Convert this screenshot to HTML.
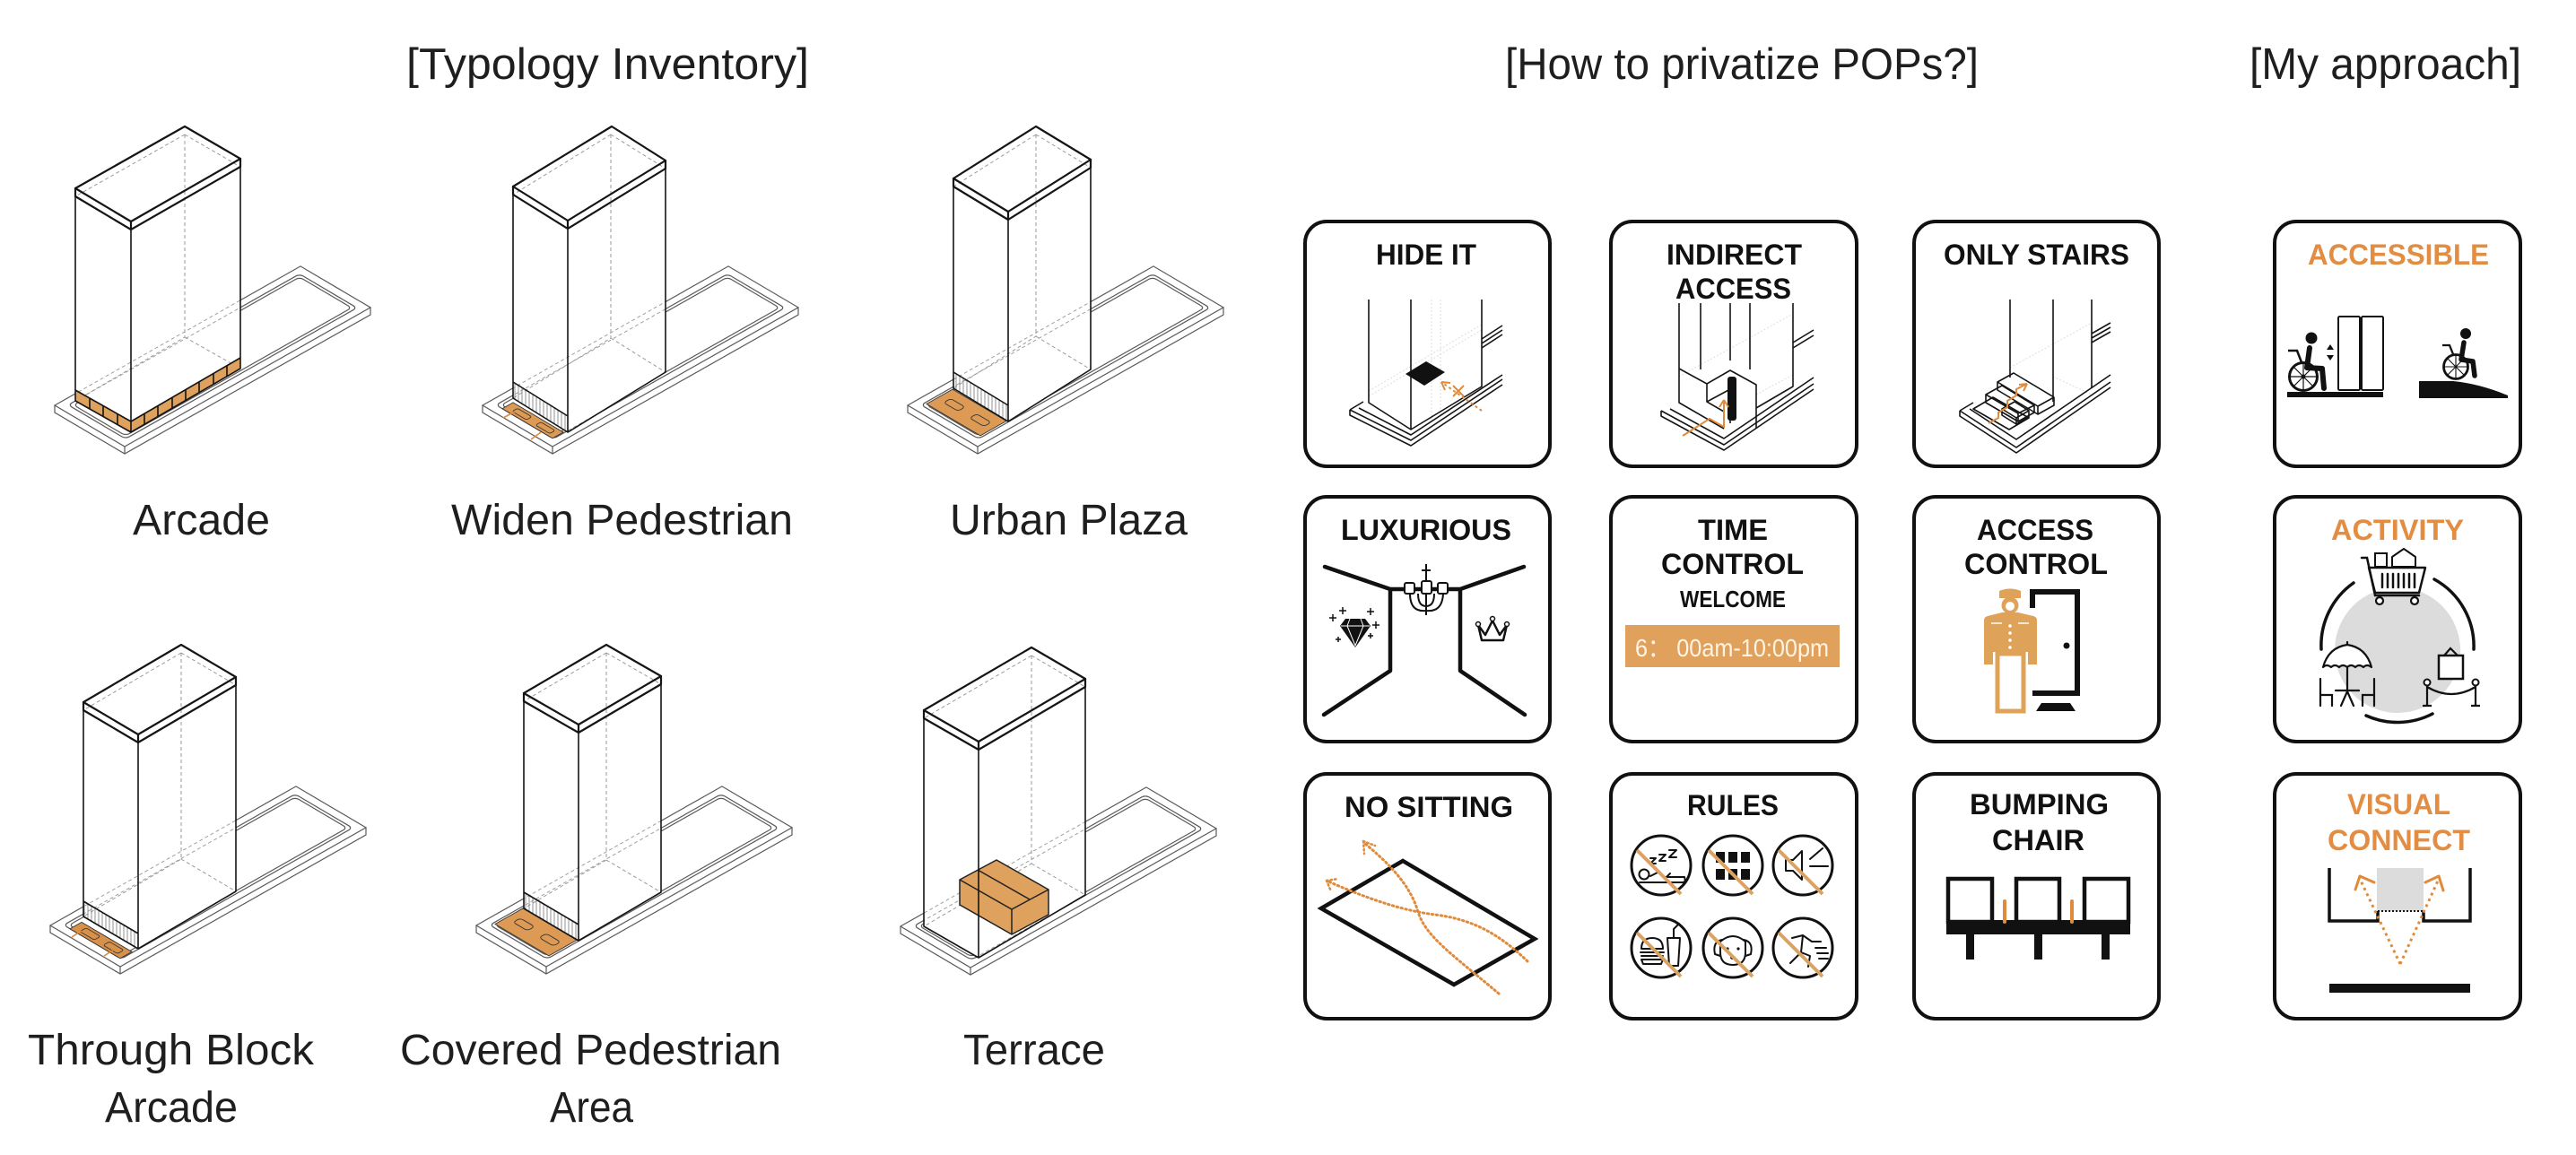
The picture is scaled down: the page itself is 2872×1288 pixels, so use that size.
<!DOCTYPE html>
<html>
<head>
<meta charset="utf-8">
<style>
html,body{margin:0;padding:0;background:#fff;}
body{width:2872px;height:1288px;overflow:hidden;}
svg{display:block;}
.pl{fill:none;stroke:#5a5a5a;stroke-width:1.2}
.pd{fill:none;stroke:#a0a0a0;stroke-width:1;stroke-dasharray:4 3}
.k1{fill:none;stroke:#151515;stroke-width:2.2;stroke-linejoin:round;stroke-linecap:round}
.k2{fill:none;stroke:#151515;stroke-width:1.6;stroke-linejoin:round}
.dh{fill:none;stroke:#9a9a9a;stroke-width:1;stroke-dasharray:4 3}
.lbl{font-family:"Liberation Sans",sans-serif;font-size:48px;fill:#1e1e1e}
.ttl{font-family:"Liberation Sans",sans-serif;font-size:49px;fill:#1e1e1e}
.ct{font-family:"Liberation Sans",sans-serif;font-size:32px;font-weight:bold;fill:#111}
.co{font-family:"Liberation Sans",sans-serif;font-size:32px;font-weight:bold;fill:#E38D43}
.card{fill:#fff;stroke:#111;stroke-width:4}
.ic{fill:none;stroke:#111;stroke-width:2;stroke-linecap:round;stroke-linejoin:round}
.sl{stroke:#DFA25E;stroke-width:4;stroke-linecap:butt}
</style>
</head>
<body>
<svg width="2872" height="1288" viewBox="0 0 2872 1288" xmlns="http://www.w3.org/2000/svg">
<defs>
<pattern id="hatch" width="4" height="10" patternUnits="userSpaceOnUse"><line x1="2" y1="0" x2="2" y2="10" stroke="#777" stroke-width="0.8"/></pattern>
<clipPath id="c1"><polygon points="206,141 268,177 268,411 146,482 84,447 84,210"/></clipPath>
<clipPath id="c2"><polygon points="682,141 742,179 742,415 633,482 572,444 572,208"/></clipPath>
<clipPath id="c3"><polygon points="1155,141 1216,178 1216,412 1124,470 1063,433 1063,199"/></clipPath>
<clipPath id="c4"><polygon points="202,719 263,755 263,994 154,1058 93,1022 93,783"/></clipPath>
<clipPath id="c5"><polygon points="676,719 737,754 737,995 645,1049 584,1013 584,773"/></clipPath>
<clipPath id="c6"><polygon points="1150,722 1210,757 1210,998 1091,1068 1030,1033 1030,792"/></clipPath>
</defs>
<rect width="2872" height="1288" fill="#fff"/>

<!-- TITLES -->
<text class="ttl" x="453" y="88" textLength="449" lengthAdjust="spacingAndGlyphs">[Typology Inventory]</text>
<text class="ttl" x="1678" y="88" textLength="528" lengthAdjust="spacingAndGlyphs">[How to privatize POPs?]</text>
<text class="ttl" x="2508" y="88" textLength="303" lengthAdjust="spacingAndGlyphs">[My approach]</text>

<!-- ============ BUILDING 1: ARCADE ============ -->
<path class="pl" d="M61,452 L61,460 L139,506 L413,351 L413,343 M139,498 L139,506"/>
<g transform="matrix(1,-0.566,-1,-0.59,139,498)">
<rect width="274" height="78" class="pl" vector-effect="non-scaling-stroke"/>
<rect x="8" y="7" width="258" height="64" rx="4" class="pl" vector-effect="non-scaling-stroke"/>
<rect x="11" y="10" width="252" height="58" rx="4" class="pl" vector-effect="non-scaling-stroke"/>
</g>
<polygon fill="#fff" points="206,141 268,177 268,411 146,482 84,447 84,210"/>
<g clip-path="url(#c1)"><g transform="matrix(1,-0.566,-1,-0.59,139,498)">
<rect width="274" height="78" class="pd" vector-effect="non-scaling-stroke"/>
<rect x="8" y="7" width="258" height="64" rx="4" class="pd" vector-effect="non-scaling-stroke"/>
</g></g>
<path class="dh" d="M206,150 L206,376 L84,447 M206,376 L268,411 M206,150 L84,219 M206,150 L268,186"/>
<polygon fill="#DFA25E" points="84,435 146,470 268,399 268,411 146,482 84,447"/>
<path class="k2" stroke-width="1.3" d="M84,435 L146,470 L268,399 M100,444 L100,456 M115,453 L115,465 M131,461 L131,473 M161,461 L161,473 M176,453 L176,465 M192,444 L192,456 M207,435 L207,447 M222,426 L222,438 M238,417 L238,429 M253,408 L253,420"/>
<path class="k1" d="M206,141 L84,210 L146,247 L268,177 Z"/>
<path class="k1" d="M84,210 L84,219 L146,256 L268,186 L268,177 M146,247 L146,256"/>
<path class="k2" d="M84,219 L84,447 L146,482 L268,411 L268,186 M146,256 L146,482"/>
<text class="lbl" x="148" y="596" textLength="153" lengthAdjust="spacingAndGlyphs">Arcade</text>

<!-- ============ BUILDING 2: WIDEN ============ -->
<path class="pl" d="M538,452 L538,460 L616,506 L890,351 L890,343 M616,498 L616,506"/>
<g transform="matrix(1,-0.566,-1,-0.59,616,498)">
<rect width="274" height="78" class="pl" vector-effect="non-scaling-stroke"/>
<rect x="8" y="7" width="258" height="64" rx="4" class="pl" vector-effect="non-scaling-stroke"/>
<rect x="11" y="10" width="252" height="58" rx="4" class="pl" vector-effect="non-scaling-stroke"/>
</g>
<polygon fill="#fff" points="682,141 742,179 742,415 633,482 572,444 572,208"/>
<g clip-path="url(#c2)"><g transform="matrix(1,-0.566,-1,-0.59,616,498)">
<rect width="274" height="78" class="pd" vector-effect="non-scaling-stroke"/>
<rect x="8" y="7" width="258" height="64" rx="4" class="pd" vector-effect="non-scaling-stroke"/>
</g></g>
<path class="dh" d="M681,150 L681,377 L572,444 M681,377 L742,415 M681,150 L572,217 M681,150 L742,188"/>
<polygon fill="url(#hatch)" points="572,426 633,464 633,482 572,444"/>
<g transform="matrix(1,-0.566,-1,-0.59,616,498)">
<rect x="8" y="8" width="12" height="56" fill="#DC9A55" stroke="#333" stroke-width="0.9" vector-effect="non-scaling-stroke"/>
<rect x="11" y="14" width="6" height="16" rx="2" fill="none" stroke="#333" stroke-width="0.8" vector-effect="non-scaling-stroke"/>
<rect x="11" y="40" width="6" height="16" rx="2" fill="none" stroke="#333" stroke-width="0.8" vector-effect="non-scaling-stroke"/>
</g>
<path stroke="#E08A3C" stroke-width="1.6" d="M561,466 L574,459 M592,490 L603,482"/>
<path class="k1" d="M682,141 L572,208 L633,246 L742,179 Z"/>
<path class="k1" d="M572,208 L572,217 L633,255 L742,188 L742,179 M633,246 L633,255"/>
<path class="k2" d="M572,217 L572,444 L633,482 L742,415 L742,188 M633,255 L633,482 M572,426 L633,464"/>
<text class="lbl" x="503" y="596" textLength="381" lengthAdjust="spacingAndGlyphs">Widen Pedestrian</text>

<!-- ============ BUILDING 3: URBAN PLAZA ============ -->
<path class="pl" d="M1012,452 L1012,460 L1090,506 L1364,351 L1364,343 M1090,498 L1090,506"/>
<g transform="matrix(1,-0.566,-1,-0.59,1090,498)">
<rect width="274" height="78" class="pl" vector-effect="non-scaling-stroke"/>
<rect x="8" y="7" width="258" height="64" rx="4" class="pl" vector-effect="non-scaling-stroke"/>
<rect x="11" y="10" width="252" height="58" rx="4" class="pl" vector-effect="non-scaling-stroke"/>
</g>
<polygon fill="#fff" points="1155,141 1216,178 1216,412 1124,470 1063,433 1063,199"/>
<g clip-path="url(#c3)"><g transform="matrix(1,-0.566,-1,-0.59,1090,498)">
<rect width="274" height="78" class="pd" vector-effect="non-scaling-stroke"/>
<rect x="8" y="7" width="258" height="64" rx="4" class="pd" vector-effect="non-scaling-stroke"/>
</g></g>
<path class="dh" d="M1155,150 L1155,375 L1063,433 M1155,375 L1216,412 M1155,150 L1063,208 M1155,150 L1216,187"/>
<polygon fill="url(#hatch)" points="1063,415 1124,452 1124,470 1063,433"/>
<g transform="matrix(1,-0.566,-1,-0.59,1090,498)">
<rect x="12" y="9" width="29" height="60" fill="#DC9A55" stroke="#333" stroke-width="0.9" vector-effect="non-scaling-stroke"/>
<rect x="23" y="16" width="8" height="16" rx="3" fill="none" stroke="#333" stroke-width="0.9" vector-effect="non-scaling-stroke"/>
<rect x="23" y="45" width="8" height="16" rx="3" fill="none" stroke="#333" stroke-width="0.9" vector-effect="non-scaling-stroke"/>
</g>
<path class="k1" d="M1155,141 L1063,199 L1124,236 L1216,178 Z"/>
<path class="k1" d="M1063,199 L1063,208 L1124,245 L1216,187 L1216,178 M1124,236 L1124,245"/>
<path class="k2" d="M1063,208 L1063,433 L1124,470 L1216,412 L1216,187 M1124,245 L1124,470 M1063,415 L1124,452"/>
<text class="lbl" x="1059" y="596" textLength="265" lengthAdjust="spacingAndGlyphs">Urban Plaza</text>

<!-- ============ BUILDING 4: THROUGH BLOCK ============ -->
<path class="pl" d="M56,1032 L56,1040 L134,1086 L408,931 L408,923 M134,1078 L134,1086"/>
<g transform="matrix(1,-0.566,-1,-0.59,134,1078)">
<rect width="274" height="78" class="pl" vector-effect="non-scaling-stroke"/>
<rect x="8" y="7" width="258" height="64" rx="4" class="pl" vector-effect="non-scaling-stroke"/>
<rect x="11" y="10" width="252" height="58" rx="4" class="pl" vector-effect="non-scaling-stroke"/>
</g>
<polygon fill="#fff" points="202,719 263,755 263,994 154,1058 93,1022 93,783"/>
<g clip-path="url(#c4)"><g transform="matrix(1,-0.566,-1,-0.59,134,1078)">
<rect width="274" height="78" class="pd" vector-effect="non-scaling-stroke"/>
<rect x="8" y="7" width="258" height="64" rx="4" class="pd" vector-effect="non-scaling-stroke"/>
</g></g>
<path class="dh" d="M202,728 L202,958 L93,1022 M202,958 L263,994 M202,728 L93,792 M202,728 L263,764"/>
<polygon fill="url(#hatch)" points="93,1005 154,1041 154,1058 93,1022"/>
<g transform="matrix(1,-0.566,-1,-0.59,134,1078)">
<rect x="8" y="8" width="13" height="56" fill="#D8914A" stroke="#333" stroke-width="0.9" vector-effect="non-scaling-stroke"/>
<rect x="11" y="14" width="7" height="16" rx="2" fill="none" stroke="#333" stroke-width="0.8" vector-effect="non-scaling-stroke"/>
<rect x="11" y="40" width="7" height="16" rx="2" fill="none" stroke="#333" stroke-width="0.8" vector-effect="non-scaling-stroke"/>
</g>
<path stroke="#E08A3C" stroke-width="1.6" d="M80,1045 L91,1038 M116,1066 L127,1059"/>
<path class="k1" d="M202,719 L93,783 L154,819 L263,755 Z"/>
<path class="k1" d="M93,783 L93,792 L154,828 L263,764 L263,755 M154,819 L154,828"/>
<path class="k2" d="M93,792 L93,1022 L154,1058 L263,994 L263,764 M154,828 L154,1058 M93,1005 L154,1041"/>
<text class="lbl" x="31" y="1187" textLength="319" lengthAdjust="spacingAndGlyphs">Through Block</text>
<text class="lbl" x="117" y="1251" textLength="148" lengthAdjust="spacingAndGlyphs">Arcade</text>

<!-- ============ BUILDING 5: COVERED ============ -->
<path class="pl" d="M531,1032 L531,1040 L609,1086 L883,931 L883,923 M609,1078 L609,1086"/>
<g transform="matrix(1,-0.566,-1,-0.59,609,1078)">
<rect width="274" height="78" class="pl" vector-effect="non-scaling-stroke"/>
<rect x="8" y="7" width="258" height="64" rx="4" class="pl" vector-effect="non-scaling-stroke"/>
<rect x="11" y="10" width="252" height="58" rx="4" class="pl" vector-effect="non-scaling-stroke"/>
</g>
<polygon fill="#fff" points="676,719 737,754 737,995 645,1049 584,1013 584,773"/>
<g clip-path="url(#c5)"><g transform="matrix(1,-0.566,-1,-0.59,609,1078)">
<rect width="274" height="78" class="pd" vector-effect="non-scaling-stroke"/>
<rect x="8" y="7" width="258" height="64" rx="4" class="pd" vector-effect="non-scaling-stroke"/>
</g></g>
<path class="dh" d="M676,728 L676,959 L584,1013 M676,959 L737,995 M676,728 L584,782 M676,728 L737,763"/>
<polygon fill="url(#hatch)" points="584,995 645,1031 645,1049 584,1013"/>
<g transform="matrix(1,-0.566,-1,-0.59,609,1078)">
<rect x="12" y="9" width="31" height="60" fill="#DC9A55" stroke="#333" stroke-width="0.9" vector-effect="non-scaling-stroke"/>
<rect x="24" y="16" width="8" height="16" rx="3" fill="none" stroke="#333" stroke-width="0.9" vector-effect="non-scaling-stroke"/>
<rect x="24" y="45" width="8" height="16" rx="3" fill="none" stroke="#333" stroke-width="0.9" vector-effect="non-scaling-stroke"/>
</g>
<path class="k1" d="M676,719 L584,773 L645,808 L737,754 Z"/>
<path class="k1" d="M584,773 L584,782 L645,817 L737,763 L737,754 M645,808 L645,817"/>
<path class="k2" d="M584,782 L584,1013 L645,1049 L737,995 L737,763 M645,817 L645,1049 M584,995 L645,1031"/>
<text class="lbl" x="446" y="1187" textLength="425" lengthAdjust="spacingAndGlyphs">Covered Pedestrian</text>
<text class="lbl" x="613" y="1251" textLength="93" lengthAdjust="spacingAndGlyphs">Area</text>

<!-- ============ BUILDING 6: TERRACE ============ -->
<path class="pl" d="M1004,1033 L1004,1041 L1082,1087 L1356,932 L1356,924 M1082,1079 L1082,1087"/>
<g transform="matrix(1,-0.566,-1,-0.59,1082,1079)">
<rect width="274" height="78" class="pl" vector-effect="non-scaling-stroke"/>
<rect x="8" y="7" width="258" height="64" rx="4" class="pl" vector-effect="non-scaling-stroke"/>
<rect x="11" y="10" width="252" height="58" rx="4" class="pl" vector-effect="non-scaling-stroke"/>
</g>
<polygon fill="#fff" points="1150,722 1210,757 1210,998 1091,1068 1030,1033 1030,792"/>
<g clip-path="url(#c6)"><g transform="matrix(1,-0.566,-1,-0.59,1082,1079)">
<rect width="274" height="78" class="pd" vector-effect="non-scaling-stroke"/>
<rect x="8" y="7" width="258" height="64" rx="4" class="pd" vector-effect="non-scaling-stroke"/>
</g></g>
<path class="dh" d="M1150,731 L1150,963 L1030,1033 M1150,963 L1210,998 M1150,731 L1030,801 M1150,731 L1210,766"/>
<polygon fill="#DFA25E" stroke="#222" stroke-width="1.5" stroke-linejoin="round" points="1111,959 1169,992 1169,1020 1128,1042 1070,1009 1070,981"/>
<path fill="none" stroke="#222" stroke-width="1.5" d="M1070,981 L1128,1014 L1169,992 M1128,1014 L1128,1042 M1090,970 L1148,1003"/>
<path class="k1" d="M1150,722 L1030,792 L1091,827 L1210,757 Z"/>
<path class="k1" d="M1030,792 L1030,801 L1091,836 L1210,766 L1210,757 M1091,827 L1091,836"/>
<path class="k2" d="M1030,801 L1030,1033 L1091,1068 L1210,998 L1210,766 M1091,836 L1091,1068"/>
<text class="lbl" x="1074" y="1187" textLength="158" lengthAdjust="spacingAndGlyphs">Terrace</text>

<!-- ============ CARDS ============ -->
<rect class="card" x="1455" y="247" width="273" height="273" rx="24"/>
<rect class="card" x="1796" y="247" width="274" height="273" rx="24"/>
<rect class="card" x="2134" y="247" width="273" height="273" rx="24"/>
<rect class="card" x="2536" y="247" width="274" height="273" rx="24"/>
<rect class="card" x="1455" y="554" width="273" height="273" rx="24"/>
<rect class="card" x="1796" y="554" width="274" height="273" rx="24"/>
<rect class="card" x="2134" y="554" width="273" height="273" rx="24"/>
<rect class="card" x="2536" y="554" width="274" height="273" rx="24"/>
<rect class="card" x="1455" y="863" width="273" height="273" rx="24"/>
<rect class="card" x="1796" y="863" width="274" height="273" rx="24"/>
<rect class="card" x="2134" y="863" width="273" height="273" rx="24"/>
<rect class="card" x="2536" y="863" width="274" height="273" rx="24"/>

<!-- HIDE IT -->
<text class="ct" x="1534" y="295" textLength="112" lengthAdjust="spacingAndGlyphs">HIDE IT</text>
<path fill="none" stroke="#ddd" stroke-width="1" stroke-dasharray="2 2" d="M1526,436 L1652,362 M1526,442 L1652,368 M1596,334 L1596,470 M1606,334 L1606,465"/>
<path class="k2" stroke-width="1.1" stroke="#444" d="M1505,457 L1573,491 L1675,423 M1505,457 L1505,463 L1573,497 L1675,429 M1515,455 L1573,485 L1675,418 M1505,457 L1520,448 M1652,378 L1675,363 M1652,383 L1675,368 M1652,388 L1675,373"/>
<path class="k2" stroke-width="1.8" d="M1526,334 L1526,449 L1573,479 L1652,431 L1652,334 M1573,334 L1573,479"/>
<polygon fill="#111" points="1567,417 1590,403 1611,415 1588,430"/>
<path fill="none" stroke="#E08A3C" stroke-width="2" stroke-dasharray="3 3" d="M1652,458 L1607,426"/>
<path fill="none" stroke="#E08A3C" stroke-width="2" d="M1607,426 L1611,435 M1607,426 L1617,427 M1620,430 L1632,442 M1632,430 L1620,442"/>

<!-- INDIRECT ACCESS -->
<text class="ct" x="1858" y="295" textLength="151" lengthAdjust="spacingAndGlyphs">INDIRECT</text>
<text class="ct" x="1868" y="333" textLength="129" lengthAdjust="spacingAndGlyphs">ACCESS</text>
<path fill="none" stroke="#ddd" stroke-width="1" stroke-dasharray="2 2" d="M1872,420 L1999,350 M1958,440 L1999,418"/>
<path class="k2" stroke-width="1.1" stroke="#444" d="M1852,458 L1922,496 L2022,428 M1852,458 L1852,464 L1922,502 L2022,434 M1862,456 L1922,489 L2022,421 M1999,382 L2022,368 M1999,388 L2022,374"/>
<path class="k2" stroke-width="1.8" d="M1872,338 L1872,449 L1922,478 M1896,338 L1896,412 M1929,338 L1929,402 M1951,338 L1951,412 M1999,338 L1999,431 L1958,455 M1872,411 L1903,428 L1929,413 L1958,429 L1958,478 M1903,428 L1903,448 L1929,434 L1929,472 M1903,448 L1922,459"/>
<rect x="1926" y="420" width="10" height="49" rx="3" fill="#111"/>
<path fill="none" stroke="#E08A3C" stroke-width="2" d="M1876,486 L1906,467 L1922,476 L1922,446 M1922,446 L1917,454 M1922,446 L1927,454"/>

<!-- ONLY STAIRS -->
<text class="ct" x="2167" y="295" textLength="207" lengthAdjust="spacingAndGlyphs">ONLY STAIRS</text>
<path fill="none" stroke="#ddd" stroke-width="1" stroke-dasharray="2 2" d="M2241,410 L2332,360 M2289,420 L2332,440"/>
<path class="k2" stroke-width="1.1" stroke="#444" d="M2185,458 L2248,499 L2353,426 M2185,458 L2185,464 L2248,505 L2353,432 M2196,456 L2248,490 L2353,418 M2185,458 L2200,449 M2332,372 L2353,360 M2332,377 L2353,365 M2332,382 L2353,370 M2200,456 L2222,443 L2262,466 L2240,479 Z"/>
<path class="k2" stroke-width="1.8" d="M2241,334 L2241,421 M2289,334 L2289,448 M2332,334 L2332,433"/>
<path class="k2" stroke-width="1.5" fill="#fff" d="M2227,426 L2245,416 L2290,443 L2290,452 L2272,462 L2227,435 Z M2227,426 L2272,453 L2290,443 M2272,453 L2272,462"/>
<path class="k2" stroke-width="1.5" fill="#fff" d="M2214,440 L2232,430 L2268,452 L2268,460 L2250,470 L2214,449 Z M2214,440 L2250,461 L2268,452 M2250,461 L2250,470"/>
<path class="k2" stroke-width="1.5" fill="#fff" d="M2232,456 L2246,448 L2262,458 L2262,465 L2248,473 L2232,463 Z M2232,456 L2248,466 L2262,458 M2248,466 L2248,473"/>
<path fill="none" stroke="#E08A3C" stroke-width="2" d="M2217,472 L2228,466 L2228,460 L2238,454 L2238,447 L2248,441 L2248,434 L2260,428 M2260,428 L2251,429 M2260,428 L2256,436"/>

<!-- ACCESSIBLE -->
<text class="co" x="2573" y="295" textLength="202" lengthAdjust="spacingAndGlyphs">ACCESSIBLE</text>
<rect x="2607" y="353" width="24" height="82" rx="1.5" fill="none" stroke="#111" stroke-width="2"/>
<rect x="2633" y="353" width="24" height="82" rx="1.5" fill="none" stroke="#111" stroke-width="2"/>
<rect x="2550" y="437" width="107" height="6" fill="#111"/>
<circle cx="2577" cy="377" r="6.5" fill="#111"/>
<path fill="none" stroke="#111" stroke-width="6" stroke-linecap="round" stroke-linejoin="round" d="M2575,388 L2572,410 L2589,411 L2591,433"/>
<circle cx="2568" cy="420" r="15.5" fill="none" stroke="#111" stroke-width="3"/>
<path stroke="#111" stroke-width="1.2" d="M2553,420 L2583,420 M2568,405 L2568,435 M2557,409 L2579,431 M2579,409 L2557,431"/>
<circle cx="2568" cy="420" r="2.5" fill="#111"/>
<path fill="none" stroke="#111" stroke-width="2.5" d="M2551,391 L2561,391 L2566,404"/>
<polygon fill="#111" points="2598,384 2594,390 2602,390"/>
<polygon fill="#111" points="2598,402 2594,396 2602,396"/>
<path fill="#111" d="M2697,425 L2735,425 Q2765,428 2796,441 L2796,444 L2697,444 Z"/>
<circle cx="2749" cy="372" r="6" fill="#111"/>
<path fill="none" stroke="#111" stroke-width="5.5" stroke-linecap="round" stroke-linejoin="round" d="M2747,382 L2744,401 L2757,403 L2759,419"/>
<circle cx="2738" cy="409" r="13.5" fill="none" stroke="#111" stroke-width="2.8"/>
<path stroke="#111" stroke-width="1.1" d="M2725,409 L2751,409 M2738,396 L2738,422 M2729,400 L2747,418 M2747,400 L2729,418"/>
<path fill="none" stroke="#111" stroke-width="2.3" d="M2723,385 L2731,385 L2735,395"/>

<!-- LUXURIOUS -->
<text class="ct" x="1495" y="602" textLength="190" lengthAdjust="spacingAndGlyphs">LUXURIOUS</text>
<path fill="none" stroke="#111" stroke-width="4.5" stroke-linecap="round" stroke-linejoin="round" d="M1477,632 L1550,657 L1628,657 L1699,632 M1550,657 L1550,748 L1476,797 M1628,657 L1628,748 L1700,797"/>
<path fill="none" stroke="#111" stroke-width="2" d="M1590,629 L1590,686 M1585,636 L1595,636 M1572,662 Q1572,683 1590,681 Q1608,683 1609,662 M1581,662 Q1581,676 1590,676 Q1599,676 1599,662"/>
<rect x="1566" y="650" width="11" height="12" rx="2" fill="#fff" stroke="#111" stroke-width="2"/>
<rect x="1585" y="648" width="11" height="14" rx="2" fill="#fff" stroke="#111" stroke-width="2"/>
<rect x="1603" y="650" width="11" height="12" rx="2" fill="#fff" stroke="#111" stroke-width="2"/>
<polygon fill="#111" points="1500,690 1522,690 1528,698 1511,722 1494,698"/>
<path fill="none" stroke="#fff" stroke-width="1" d="M1495,698 L1527,698 M1505,690 L1502,698 L1511,720 L1520,698 L1517,690"/>
<path fill="none" stroke="#111" stroke-width="1.5" d="M1486,685 L1486,693 M1482,689 L1490,689 M1497,677 L1497,685 M1493,681 L1501,681 M1528,678 L1528,686 M1524,682 L1532,682 M1534,693 L1534,701 M1530,697 L1538,697 M1492,710 L1492,716 M1489,713 L1495,713 M1528,706 L1528,712 M1525,709 L1531,709"/>
<path fill="none" stroke="#111" stroke-width="2.5" stroke-linejoin="round" d="M1648,697 L1656,708 L1664,692 L1672,708 L1680,697 L1676,714 L1652,714 Z"/>
<circle cx="1648" cy="696" r="2.5" fill="#fff" stroke="#111" stroke-width="1.5"/>
<circle cx="1664" cy="690" r="2.5" fill="#fff" stroke="#111" stroke-width="1.5"/>
<circle cx="1680" cy="696" r="2.5" fill="#fff" stroke="#111" stroke-width="1.5"/>

<!-- TIME CONTROL -->
<text class="ct" x="1893" y="602" textLength="78" lengthAdjust="spacingAndGlyphs">TIME</text>
<text class="ct" x="1852" y="640" textLength="159" lengthAdjust="spacingAndGlyphs">CONTROL</text>
<text class="ct" x="1873" y="677" textLength="118" lengthAdjust="spacingAndGlyphs" style="font-size:26px">WELCOME</text>
<rect x="1812" y="697" width="239" height="47" fill="#E0A15C"/>
<text x="1823" y="732" textLength="216" lengthAdjust="spacingAndGlyphs" style="font-family:'Liberation Sans','Noto Sans CJK SC',sans-serif;font-size:28px;fill:#FFF4E4">6： 00am-10:00pm</text>

<!-- ACCESS CONTROL -->
<text class="ct" x="2204" y="602" textLength="130" lengthAdjust="spacingAndGlyphs">ACCESS</text>
<text class="ct" x="2190" y="640" textLength="160" lengthAdjust="spacingAndGlyphs">CONTROL</text>
<path fill="none" stroke="#111" stroke-width="6" d="M2266,678 L2266,660 L2316,660 L2316,773 L2266,773"/>
<circle cx="2304" cy="720" r="3.5" fill="#111"/>
<polygon fill="#111" points="2276,784 2308,784 2314,793 2270,793"/>
<path fill="#DEA259" d="M2229,667 L2229,659 Q2241,654 2253,659 L2253,667 Z"/>
<circle cx="2241" cy="675" r="9.5" fill="#DEA259"/>
<circle cx="2241" cy="676" r="5" fill="#fff"/>
<path fill="#DEA259" d="M2216,687 L2232,683 L2250,683 L2267,687 Q2271,688 2271,692 L2271,741 L2261,741 L2261,727 L2222,727 L2222,741 L2212,741 L2212,692 Q2212,688 2216,687 Z"/>
<path fill="none" stroke="#fff" stroke-width="1.5" d="M2220,695 L2232,695 M2250,695 L2262,695"/>
<circle cx="2241" cy="698" r="1.8" fill="#fff"/>
<circle cx="2241" cy="706" r="1.8" fill="#fff"/>
<circle cx="2241" cy="714" r="1.8" fill="#fff"/>
<circle cx="2241" cy="722" r="1.8" fill="#fff"/>
<rect x="2227" y="729" width="29" height="64" fill="#fff" stroke="#DEA259" stroke-width="5"/>

<!-- ACTIVITY -->
<text class="co" x="2599" y="602" textLength="148" lengthAdjust="spacingAndGlyphs">ACTIVITY</text>
<circle cx="2673" cy="725" r="70" fill="#DCDCDC"/>
<path fill="none" stroke="#111" stroke-width="3.5" stroke-linecap="round" d="M2624,650 A85,85 0 0 0 2588,724 M2714,646 A85,85 0 0 1 2758,724 M2712,796 A85,85 0 0 1 2638,798"/>
<rect x="2648" y="617" width="13" height="15" fill="#fff" stroke="#111" stroke-width="2"/>
<path fill="#fff" stroke="#111" stroke-width="2" stroke-linejoin="round" d="M2667,632 L2667,621 L2680,612 L2693,621 L2693,632 Z"/>
<path fill="#fff" stroke="#111" stroke-width="2.5" stroke-linejoin="round" d="M2641,633 L2704,633 L2697,661 L2648,661 Z"/>
<path fill="none" stroke="#111" stroke-width="2.5" stroke-linecap="round" d="M2633,622 L2639,622 L2648,664 L2697,664 M2656,640 L2656,655 M2662,640 L2662,655 M2668,640 L2668,655 M2674,640 L2674,655 M2680,640 L2680,655 M2686,640 L2686,655 M2692,640 L2692,655"/>
<circle cx="2653" cy="670" r="4" fill="#fff" stroke="#111" stroke-width="2.2"/>
<circle cx="2692" cy="670" r="4" fill="#fff" stroke="#111" stroke-width="2.2"/>
<path fill="#fff" stroke="#111" stroke-width="2.2" stroke-linejoin="round" d="M2590,744 Q2596,722 2617,719 Q2638,722 2644,744 Q2639,740 2635,744 Q2630,740 2626,744 Q2621,740 2617,744 Q2612,740 2608,744 Q2603,740 2599,744 Q2594,740 2590,744 Z"/>
<path fill="none" stroke="#111" stroke-width="2.2" stroke-linecap="round" d="M2617,716 L2617,719 M2617,744 L2617,770 M2604,770 L2630,770 M2610,787 L2617,771 L2624,787 M2587,757 L2587,787 M2587,775 L2600,775 L2600,787 M2647,757 L2647,787 M2647,775 L2634,775 L2634,787"/>
<rect x="2719" y="731" width="27" height="26" fill="#fff" stroke="#111" stroke-width="2.5"/>
<path fill="none" stroke="#111" stroke-width="2.2" d="M2725,731 L2732,723 L2740,731 M2706,764 L2706,786 M2760,764 L2760,786 M2701,787 L2711,787 M2755,787 L2765,787 M2706,766 Q2733,782 2760,766"/>
<circle cx="2706" cy="761" r="3.5" fill="#fff" stroke="#111" stroke-width="2"/>
<circle cx="2760" cy="761" r="3.5" fill="#fff" stroke="#111" stroke-width="2"/>

<!-- NO SITTING -->
<text class="ct" x="1499" y="911" textLength="188" lengthAdjust="spacingAndGlyphs">NO SITTING</text>
<polygon fill="none" stroke="#111" stroke-width="4.5" stroke-linejoin="miter" points="1473,1013 1564,960 1711,1047 1621,1098"/>
<path fill="none" stroke="#E08A3C" stroke-width="3" stroke-dasharray="1.5 3.5" stroke-linecap="round" d="M1671,1108 C1620,1065 1590,1045 1581,1017 C1572,985 1545,960 1521,940 M1703,1072 C1670,1040 1640,1025 1600,1020 C1560,1015 1520,1000 1481,983"/>
<path fill="none" stroke="#E08A3C" stroke-width="2.5" stroke-dasharray="1.5 3" stroke-linecap="round" d="M1520,938 L1521,952 M1520,938 L1533,943 M1479,982 L1484,994 M1479,982 L1492,980"/>

<!-- RULES -->
<text class="ct" x="1881" y="909" textLength="102" lengthAdjust="spacingAndGlyphs">RULES</text>
<g fill="none" stroke="#111" stroke-width="3">
<circle cx="1852" cy="965" r="33"/><circle cx="1932" cy="965" r="33"/><circle cx="2010" cy="965" r="33"/>
<circle cx="1852" cy="1057" r="33"/><circle cx="1932" cy="1057" r="33"/><circle cx="2010" cy="1057" r="33"/>
</g>
<path class="ic" d="M1840,957 h6 l-6,6 h6 M1850,953 h7 l-7,7 h7 M1861,948 h8 l-8,8 h8"/>
<circle cx="1833" cy="975" r="5.5" class="ic"/>
<path class="ic" stroke-width="2.5" d="M1840,977 L1850,972 L1856,980 L1862,974 M1828,984 L1876,984 Q1880,984 1878,978 L1856,978"/>
<g fill="#111">
<rect x="1913" y="950" width="10" height="12"/><rect x="1927" y="950" width="10" height="12"/><rect x="1941" y="950" width="10" height="12"/>
<rect x="1913" y="969" width="10" height="12"/><rect x="1927" y="969" width="10" height="12"/><rect x="1941" y="969" width="10" height="12"/>
</g>
<polygon class="ic" points="1991,959 1999,959 2009,949 2009,981 1999,971 1991,971"/>
<path class="ic" d="M2018,958 L2032,946 M2018,966 L2038,966"/>
<path class="ic" d="M1830,1058 Q1830,1046 1842,1046 Q1854,1046 1854,1058 Z M1829,1062 L1855,1062 M1830,1066 L1854,1066 M1830,1070 L1854,1070 L1852,1075 L1832,1075 Z M1859,1046 L1873,1046 L1871,1077 L1861,1077 Z M1866,1046 L1866,1036 L1872,1030"/>
<path class="ic" d="M1918,1050 Q1932,1038 1946,1050 L1946,1062 Q1946,1076 1932,1076 Q1918,1076 1918,1062 Z M1920,1048 Q1909,1050 1912,1064 L1918,1066 M1944,1048 Q1955,1050 1952,1064 L1946,1066"/>
<ellipse cx="1932" cy="1068" rx="3" ry="2" fill="#111"/>
<circle cx="1926" cy="1058" r="1.6" fill="#111"/><circle cx="1938" cy="1058" r="1.6" fill="#111"/>
<path class="ic" d="M1998,1046 L2010,1043 L2020,1050 L2030,1050 M2010,1043 L2008,1062 L1996,1074 M2008,1062 L2018,1066 L2016,1078 M2024,1057 L2036,1057 M2026,1063 L2038,1063 M2028,1069 L2038,1069"/>
<path class="sl" d="M1825,948 L1874,997 M1905,948 L1954,997 M1983,948 L2032,997 M1825,1040 L1874,1089 M1905,1040 L1954,1089 M1983,1040 L2032,1089"/>

<!-- BUMPING CHAIR -->
<text class="ct" x="2196" y="908" textLength="155" lengthAdjust="spacingAndGlyphs">BUMPING</text>
<text class="ct" x="2221" y="948" textLength="103" lengthAdjust="spacingAndGlyphs">CHAIR</text>
<g fill="none" stroke="#111" stroke-width="4.5">
<rect x="2172" y="980" width="49" height="48"/>
<rect x="2248" y="980" width="48" height="48"/>
<rect x="2324" y="980" width="49" height="48"/>
</g>
<rect x="2170" y="1026" width="205" height="16" fill="#111"/>
<rect x="2192" y="1042" width="9" height="28" fill="#111"/>
<rect x="2268" y="1042" width="9" height="28" fill="#111"/>
<rect x="2343" y="1042" width="9" height="28" fill="#111"/>
<path stroke="#E08A3C" stroke-width="4" stroke-linecap="round" d="M2235,1005 L2235,1028 M2310,1005 L2310,1028"/>

<!-- VISUAL CONNECT -->
<text class="co" x="2617" y="908" textLength="115" lengthAdjust="spacingAndGlyphs">VISUAL</text>
<text class="co" x="2595" y="948" textLength="159" lengthAdjust="spacingAndGlyphs">CONNECT</text>
<rect x="2650" y="968" width="52" height="48" fill="#DCDCDC"/>
<path fill="none" stroke="#111" stroke-width="3.5" d="M2597,968 L2597,1027 L2651,1027 L2651,1016 M2702,1016 L2702,1027 L2754,1027 L2754,968"/>
<path fill="none" stroke="#111" stroke-width="2" stroke-dasharray="2 2" d="M2651,1016 L2702,1016"/>
<path fill="none" stroke="#E08A3C" stroke-width="3" stroke-dasharray="3 4" d="M2676,1075 L2631,980 M2676,1075 L2719,980"/>
<path fill="none" stroke="#E08A3C" stroke-width="3" stroke-linecap="round" d="M2631,977 L2626,992 M2631,977 L2647,984 M2719,977 L2704,984 M2719,977 L2724,993"/>
<rect x="2597" y="1097" width="157" height="10" fill="#111"/>
</svg>
</body>
</html>
